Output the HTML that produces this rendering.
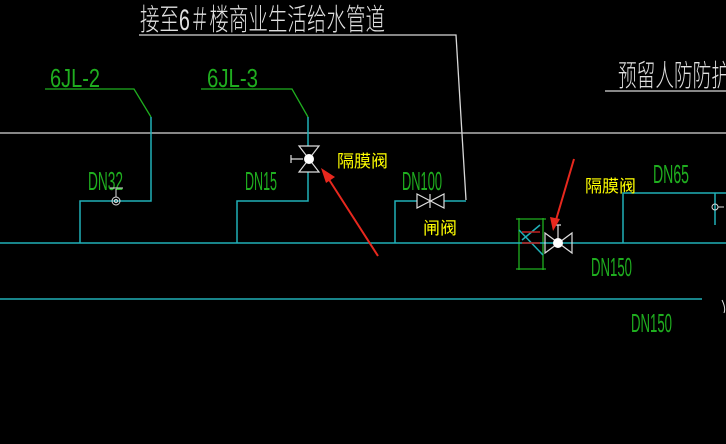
<!DOCTYPE html>
<html><head><meta charset="utf-8"><style>
html,body{margin:0;padding:0;background:#000;width:726px;height:444px;overflow:hidden}
svg{display:block}
.g{fill:#1fae1f;font-family:"Liberation Sans Narrow","Liberation Sans",sans-serif;font-size:26px}
.y{fill:#ffff00;font-family:"Liberation Sans","Noto Sans CJK SC",sans-serif;font-size:17px}
.w{fill:#e0e0e0;font-family:"Liberation Sans","Noto Sans CJK SC",sans-serif;font-size:30px;font-weight:300}
</style></head><body>
<svg width="726" height="444" viewBox="0 0 726 444" xmlns="http://www.w3.org/2000/svg">
<rect width="726" height="444" fill="#000"/>
<g stroke="#d8d8d8" stroke-width="1.3" fill="none">
<line x1="0" y1="133" x2="726" y2="133"/>
<polyline points="139,35 456,35 466,200"/>
<line x1="605" y1="91" x2="726" y2="91"/>
</g>
<text class="w" x="140" y="30" textLength="245" lengthAdjust="spacingAndGlyphs">接至6＃楼商业生活给水管道</text>
<text class="w" x="618" y="86" textLength="112" lengthAdjust="spacingAndGlyphs">预留人防防护</text>
<g stroke="#1fae1f" stroke-width="1.3" fill="none">
<polyline points="45,89 134,89 151,117"/>
<polyline points="201,89 292,89 308,117"/>
<path d="M519,218 V270 M543,218 V270 M516,219 H546 M516,269 H546"/>
</g>
<text class="g" x="50" y="87" textLength="50" lengthAdjust="spacingAndGlyphs">6JL-2</text>
<text class="g" x="207" y="87" textLength="51" lengthAdjust="spacingAndGlyphs">6JL-3</text>
<text class="g" x="88" y="190" textLength="35" lengthAdjust="spacingAndGlyphs">DN32</text>
<text class="g" x="245" y="190" textLength="32" lengthAdjust="spacingAndGlyphs">DN15</text>
<text class="g" x="402" y="190" textLength="40" lengthAdjust="spacingAndGlyphs">DN100</text>
<text class="g" x="653" y="183" textLength="36" lengthAdjust="spacingAndGlyphs">DN65</text>
<text class="g" x="591" y="276" textLength="41" lengthAdjust="spacingAndGlyphs">DN150</text>
<text class="g" x="631" y="332" textLength="41" lengthAdjust="spacingAndGlyphs">DN150</text>
<g stroke="#20b0b8" stroke-width="1.5" fill="none">
<line x1="0" y1="243" x2="726" y2="243"/>
<line x1="0" y1="299" x2="702" y2="299"/>
<polyline points="151,117 151,201 80,201 80,243"/>
<polyline points="308,117 308,146"/>
<polyline points="308,172 308,201 237,201 237,243"/>
<polyline points="466,201 444,201"/>
<polyline points="417,201 395,201 395,243"/>
<polyline points="726,193 623,193 623,243"/>
<line x1="715" y1="193" x2="715" y2="225"/>
<path d="M519,230 L543,255 M522,240 L540,225"/>
</g>
<path d="M522,232 H540 M522,243 H540" stroke="#c02020" stroke-width="1.5"/>
<g stroke="#ddd" stroke-width="1" fill="none">
<circle cx="116" cy="201" r="4"/><circle cx="116" cy="201" r="1.5"/>
<path d="M116,197 V189 M110,188 H123"/>
<circle cx="715" cy="207" r="3"/><path d="M718,207 H724"/>
<path d="M722,300 Q726,308 724,313"/>
</g>
<g stroke="#ddd" stroke-width="1.2" fill="none">
<path d="M299,146 H319 L299,172 H319 Z"/>
<path d="M291,155 V163 M291,159 H303"/>
</g>
<circle cx="309" cy="159" r="5" fill="#fff"/>
<path d="M417,194 L444,208 V194 L417,208 Z M430,194 V208" stroke="#ddd" stroke-width="1.2" fill="none"/>
<g stroke="#ddd" stroke-width="1.2" fill="none">
<path d="M545,233 L572,253 V233 L545,253 Z"/>
<path d="M558,243 V225 M555,225 H561"/>
</g>
<circle cx="558" cy="243" r="5" fill="#fff"/>
<g stroke="#e8281e" stroke-width="2" fill="#e8281e">
<line x1="378" y1="256" x2="328" y2="178"/>
<polygon points="321,168 335,177 326,183" stroke="none"/>
<line x1="574" y1="159" x2="556" y2="220"/>
<polygon points="553,231 550,217 560,219" stroke="none"/>
</g>
<text class="y" x="337" y="167">隔膜阀</text>
<text class="y" x="423" y="234">闸阀</text>
<text class="y" x="585" y="192">隔膜阀</text>
</svg>
</body></html>
